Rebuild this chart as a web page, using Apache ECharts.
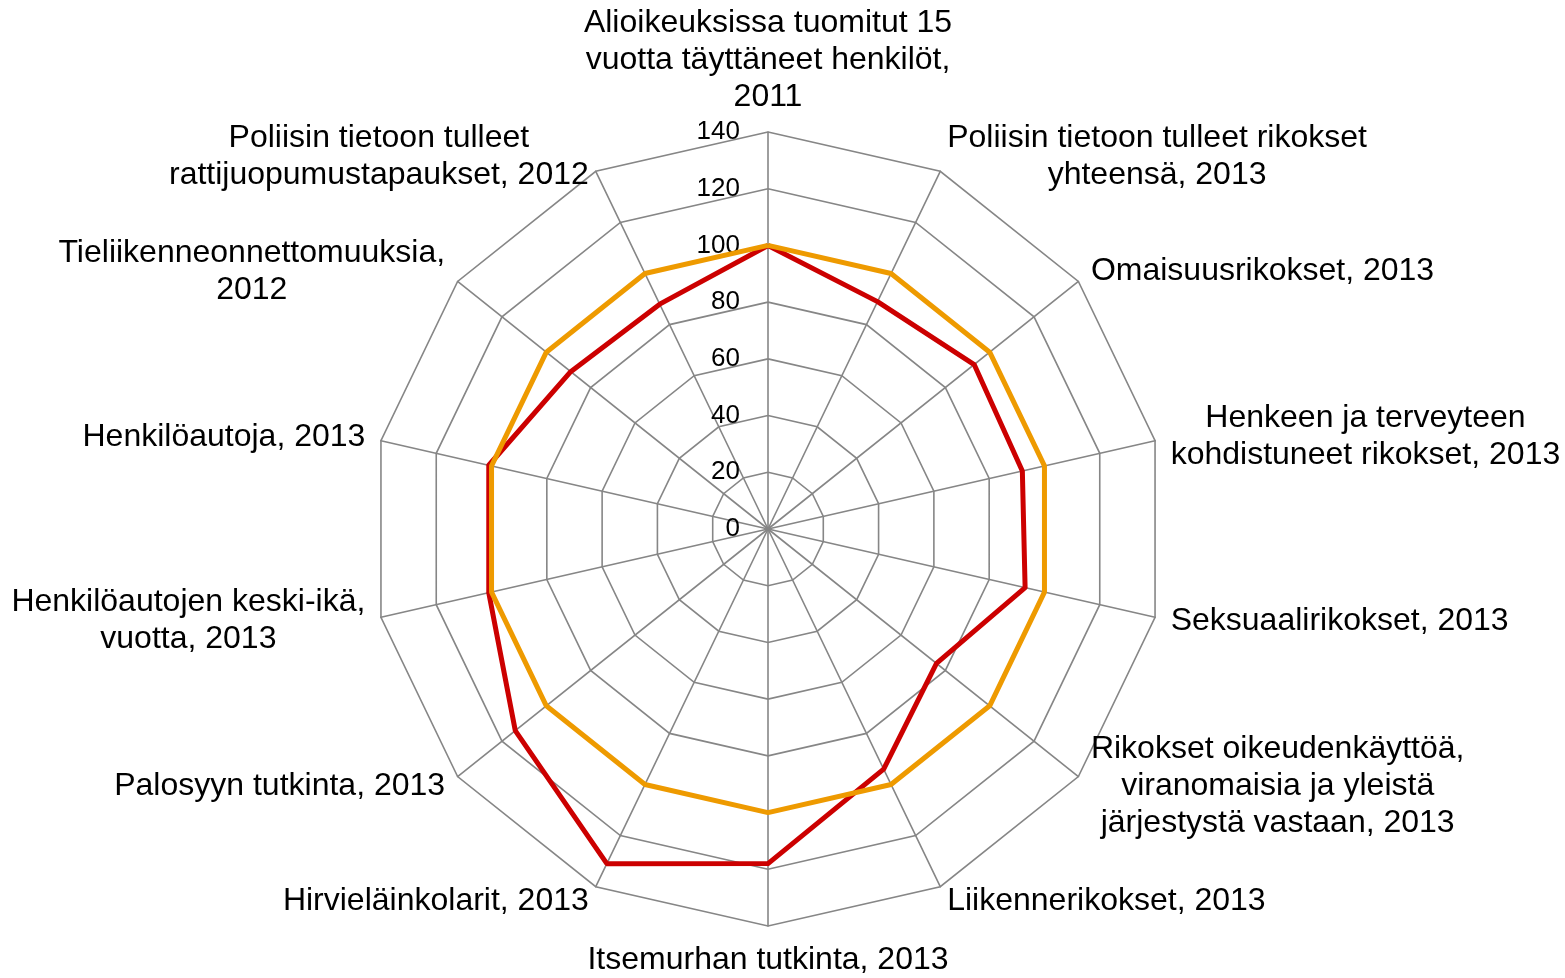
<!DOCTYPE html>
<html>
<head>
<meta charset="utf-8">
<script src="https://cdn.jsdelivr.net/npm/echarts@6/dist/echarts.min.js"></script>
<style>
html,body{margin:0;padding:0;background:#fff;}
#chart{width:1565px;height:978px;}
</style>
</head>
<body>
<div id="chart"></div>
<script>
// Indicator names (clockwise from the top)
const categories = [
  "Alioikeuksissa tuomitut 15\nvuotta täyttäneet henkilöt,\n2011",
  "Poliisin tietoon tulleet rikokset\nyhteensä, 2013",
  "Omaisuusrikokset, 2013",
  "Henkeen ja terveyteen\nkohdistuneet rikokset, 2013",
  "Seksuaalirikokset, 2013",
  "Rikokset oikeudenkäyttöä,\nviranomaisia ja yleistä\njärjestystä vastaan, 2013",
  "Liikennerikokset, 2013",
  "Itsemurhan tutkinta, 2013",
  "Hirvieläinkolarit, 2013",
  "Palosyyn tutkinta, 2013",
  "Henkilöautojen keski-ikä,\nvuotta, 2013",
  "Henkilöautoja, 2013",
  "Tieliikenneonnettomuuksia,\n2012",
  "Poliisin tietoon tulleet\nrattijuopumustapaukset, 2012"
];
// Red series values (clockwise from the top)
const redValues = [100, 89, 93, 92, 93, 76, 94, 118, 131, 114, 101, 101, 89, 88];
// Orange series values (reference = 100)
const orangeValues = [100, 100, 100, 100, 100, 100, 100, 100, 100, 100, 100, 100, 100, 100];
// Radial tick labels
const tickLabels = [0, 20, 40, 60, 80, 100, 120, 140];

const AXIS_MAX = 140;
const FONT = "'Liberation Sans', Arial, sans-serif";

// ECharts radar runs counter-clockwise; reorder to draw clockwise
function toCCW(arr) {
  return [arr[0]].concat(arr.slice(1).reverse());
}

const chart = echarts.init(document.getElementById('chart'), null, {renderer: 'canvas'});
const cx = 768, cy = 529, R = 397;

const option = {
  backgroundColor: '#ffffff',
  animation: false,
  radar: {
    center: [cx, cy],
    radius: R,
    startAngle: 90,
    shape: 'polygon',
    splitNumber: tickLabels.length - 1,
    indicator: toCCW(categories).map(n => ({name: n, min: 0, max: AXIS_MAX})),
    axisNameGap: 16,
    axisName: {
      color: '#000',
      fontFamily: FONT,
      fontSize: 32,
      lineHeight: 37,
      formatter: function (name) {
        return name.split('\n').map(l => '{c|' + l + '}').join('\n');
      },
      rich: {
        c: {align: 'center', fontSize: 32, lineHeight: 37, fontFamily: FONT, color: '#000'}
      }
    },
    axisLine: {show: true, lineStyle: {color: '#868686', width: 1.6}},
    splitLine: {show: true, lineStyle: {color: '#868686', width: 1.6}},
    splitArea: {show: false},
    axisTick: {show: false},
    axisLabel: {show: false}
  },
  grid: {
    left: cx, width: 1, top: cy - R, height: R,
    containLabel: false
  },
  xAxis: {type: 'value', show: false, min: 0, max: 1},
  yAxis: {
    type: 'value', min: 0, max: AXIS_MAX, interval: 20,
    axisLine: {show: false}, axisTick: {show: false}, splitLine: {show: false},
    axisLabel: {
      show: true, margin: 28, fontSize: 26, fontFamily: FONT, color: '#000',
      formatter: function (v) { return tickLabels.indexOf(v) >= 0 ? String(v) : ''; }
    }
  },
  series: [{
    type: 'radar',
    symbol: 'none',
    data: [
      {value: toCCW(redValues), name: 'Red', lineStyle: {color: '#CC0000', width: 5}},
      {value: toCCW(orangeValues), name: 'Orange', lineStyle: {color: '#EE9A00', width: 5}}
    ]
  }]
};
chart.setOption(option);
</script>
</body>
</html>
